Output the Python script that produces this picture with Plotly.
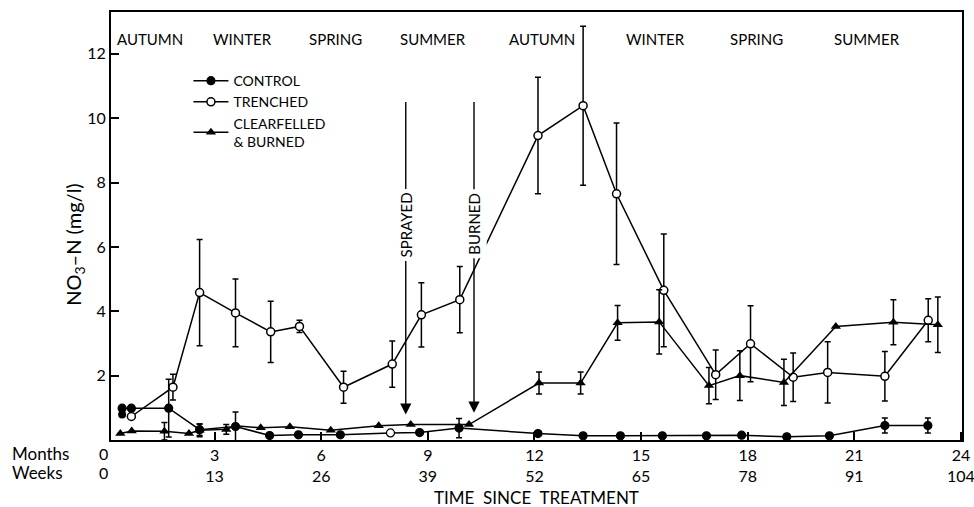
import plotly.graph_objects as go

# ---------------- data ----------------
control_x = [0.40, 0.66, 1.71, 2.58, 3.59, 4.55, 5.36, 6.54, 7.95, 8.77, 9.88,
             12.10, 13.37, 14.42, 15.60, 16.84, 17.83, 19.10, 20.30, 21.86, 23.07]
control_y = [0.99, 0.99, 0.99, 0.32, 0.42, 0.14, 0.16, 0.16, 0.22, 0.23, 0.37,
             0.20, 0.13, 0.13, 0.13, 0.13, 0.15, 0.10, 0.13, 0.45, 0.45]
control_err = [None, None, 0.90, 0.18, 0.45, None, None, None, None, None, 0.30,
               None, None, None, None, None, None, None, None, 0.23, 0.23]
control_open = [8]  # index of the point drawn as an open circle
control_extra_x = [0.40]
control_extra_y = [0.79]

trenched_x = [0.66, 1.83, 2.58, 3.59, 4.58, 5.39, 6.63, 8.00, 8.82, 9.90,
              12.10, 13.37, 14.31, 15.64, 17.10, 18.08, 19.28, 20.25, 21.86, 23.08]
trenched_y = [0.73, 1.64, 4.58, 3.95, 3.36, 3.53, 1.64, 2.36, 3.89, 4.36,
              9.46, 10.39, 7.65, 4.65, 2.03, 2.99, 1.95, 2.10, 1.98, 3.72]
trenched_err = [None, 0.40, 1.65, 1.05, 0.95, 0.19, 0.50, 0.72, 1.00, 1.03,
                1.81, 2.47, 2.20, 1.75, 0.77, 1.18, 0.75, 0.95, 0.77, 0.67]

burned_x = [0.35, 0.67, 1.59, 2.28, 2.58, 3.33, 3.59, 4.30, 5.12, 6.27, 7.62,
            8.52, 10.16, 12.13, 13.30, 14.34, 15.51, 16.91, 17.78, 19.02, 20.48,
            22.10, 23.35]
burned_y = [0.20, 0.28, 0.27, 0.20, 0.30, 0.33, 0.44, 0.38, 0.41, 0.30, 0.44,
            0.48, 0.48, 1.77, 1.77, 3.64, 3.67, 1.69, 2.00, 1.79, 3.53,
            3.66, 3.58]
burned_err = [None, None, 0.27, None, 0.20, 0.15, None, None, None, None, None,
              None, None, 0.34, 0.34, 0.54, 1.00, 0.56, 0.77, 0.72, None,
              0.70, 0.86]

month_ticks = [3, 6, 9, 12, 15, 18, 21, 24]
week_ticks = [13, 26, 39, 52, 65, 78, 91, 104]

seasons = ["AUTUMN", "WINTER", "SPRING", "SUMMER", "AUTUMN", "WINTER", "SPRING", "SUMMER"]
season_x = [1.19, 3.80, 6.39, 9.14, 12.22, 15.42, 18.26, 21.35]
season_y = 12.46

events = ["SPRAYED", "BURNED"]
event_x = [8.38, 10.30]
event_top = [10.55, 10.55]
event_tip = [0.79, 0.85]
event_label_y = [6.69, 6.72]

FONT = "Lato"
BLACK = "#000000"

fig = go.Figure()

def errs(lst):
    return dict(type="data", array=lst, visible=True, color=BLACK, thickness=1.5, width=3)

fig.add_trace(go.Scatter(
    x=trenched_x, y=trenched_y, mode="lines+markers", name="TRENCHED",
    line=dict(color=BLACK, width=1.5),
    marker=dict(symbol="circle", size=8, color="white", line=dict(color=BLACK, width=1.5)),
    error_y=errs(trenched_err)))

fig.add_trace(go.Scatter(
    x=burned_x, y=burned_y, mode="lines+markers", name="CLEARFELLED<br>& BURNED",
    line=dict(color=BLACK, width=1.5),
    marker=dict(symbol="triangle-up", size=9, color=BLACK),
    error_y=errs(burned_err)))

ccolors = ["white" if i in control_open else BLACK for i in range(len(control_x))]
fig.add_trace(go.Scatter(
    x=control_x, y=control_y, mode="lines+markers", name="CONTROL",
    line=dict(color=BLACK, width=1.5),
    marker=dict(symbol="circle", size=8, color=ccolors, line=dict(color=BLACK, width=1.2)),
    error_y=errs(control_err)))

fig.add_trace(go.Scatter(
    x=control_extra_x, y=control_extra_y, mode="markers", showlegend=False,
    marker=dict(symbol="circle", size=8, color=BLACK)))

# legend order: control, trenched, clearfelled
fig.data[2].legendrank = 1
fig.data[0].legendrank = 2
fig.data[1].legendrank = 3

ann = []
for s, sx in zip(seasons, season_x):
    ann.append(dict(x=sx, y=season_y, xref="x", yref="y", text=s, showarrow=False,
                    yanchor="middle", font=dict(family=FONT, size=15, color=BLACK)))

for lab, ex, et, tip, ly in zip(events, event_x, event_top, event_tip, event_label_y):
    ann.append(dict(x=ex, y=tip, ax=ex, ay=et, xref="x", yref="y", axref="x", ayref="y",
                    text="", showarrow=True, arrowhead=2, arrowsize=1.6, arrowwidth=1.4,
                    arrowcolor=BLACK, standoff=0))
    ann.append(dict(x=ex, y=ly, xref="x", yref="y", text=lab, textangle=-90,
                    showarrow=False, bgcolor="white", borderpad=3, yanchor="middle",
                    font=dict(family=FONT, size=15, color=BLACK)))

ann.append(dict(x=0, y=0.456, xref="paper", yref="paper", xshift=-36,
                xanchor="center", yanchor="middle",
                text="NO<sub>3</sub>–N (mg/l)", textangle=-90, showarrow=False,
                font=dict(family=FONT, size=20, color=BLACK)))
ann.append(dict(x=0.5, y=0, xref="paper", yref="paper", yshift=-57,
                xanchor="center", yanchor="middle",
                text="TIME  SINCE  TREATMENT", showarrow=False,
                font=dict(family=FONT, size=17, color=BLACK)))
ann.append(dict(x=0, y=0, xref="paper", yref="paper", xshift=-101, yshift=-13,
                xanchor="left", yanchor="middle", text="Months", showarrow=False,
                font=dict(family=FONT, size=17, color=BLACK)))
ann.append(dict(x=0, y=0, xref="paper", yref="paper", xshift=-101, yshift=-32,
                xanchor="left", yanchor="middle", text="Weeks", showarrow=False,
                font=dict(family=FONT, size=17, color=BLACK)))
ann.append(dict(x=0, y=0, xref="paper", yref="paper", xshift=-8, yshift=-13,
                xanchor="center", yanchor="middle",
                text="0", showarrow=False, font=dict(family=FONT, size=16, color=BLACK)))
ann.append(dict(x=0, y=0, xref="paper", yref="paper", xshift=-8, yshift=-32,
                xanchor="center", yanchor="middle",
                text="0", showarrow=False, font=dict(family=FONT, size=16, color=BLACK)))

fig.update_layout(
    width=974, height=507,
    margin=dict(l=111, r=12, t=12, b=67, autoexpand=False),
    paper_bgcolor="white", plot_bgcolor="white",
    font=dict(family=FONT, size=15, color=BLACK),
    annotations=ann,
    legend=dict(x=0.091, y=0.876, xanchor="left", yanchor="top",
                bgcolor="rgba(0,0,0,0)", font=dict(family=FONT, size=14, color=BLACK),
                itemwidth=35, tracegroupgap=0),
    xaxis=dict(range=[0.087, 24.03], showgrid=False, zeroline=False, automargin=False,
               showline=True, linewidth=2, linecolor=BLACK, mirror=True,
               ticks="inside", ticklen=8, tickwidth=1.5, tickcolor=BLACK,
               tickvals=month_ticks, ticklabeloverflow="allow",
               ticktext=[f"{m}<br>{w}" for m, w in zip(month_ticks, week_ticks)],
               tickfont=dict(family=FONT, size=16, color=BLACK)),
    yaxis=dict(range=[0, 13.3], showgrid=False, zeroline=False, automargin=False,
               showline=True, linewidth=2, linecolor=BLACK, mirror=True,
               ticks="inside", ticklen=8, tickwidth=1.5, tickcolor=BLACK,
               tickvals=[2, 4, 6, 8, 10, 12],
               tickfont=dict(family=FONT, size=16, color=BLACK)),
)

fig.write_html("out.html", config={"displayModeBar": False},
               post_script="document.body.style.margin='0';document.body.style.padding='0';")
